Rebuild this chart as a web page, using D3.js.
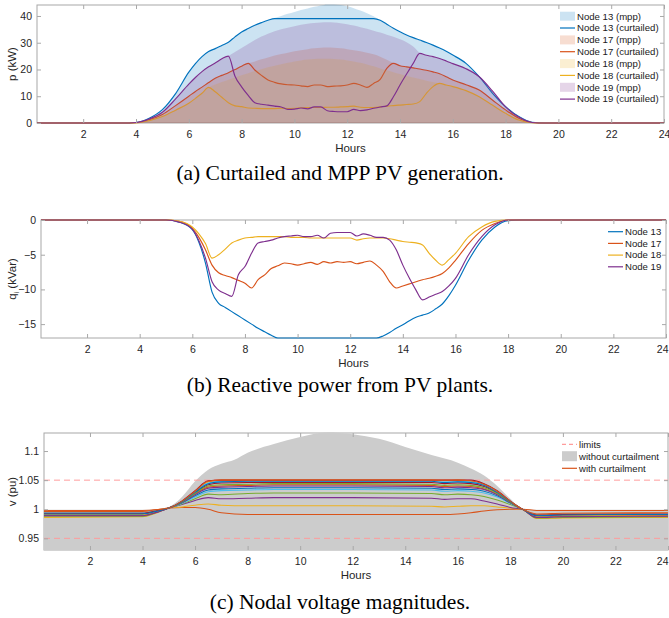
<!DOCTYPE html>
<html>
<head>
<script src="https://d3js.org/d3.v7.min.js" charset="utf-8"></script>
<style type="text/css">
	body { margin: 0; background: #fff; }
	svg { font-family: "Liberation Sans", Arial, sans-serif; }
	.tick text { fill: #262626; font-size: 10.5px; }
	.tick line { stroke: #a8a8a8; }
	.caption { font-family: "Liberation Serif", "Times New Roman", serif; font-size: 21.5px; fill: #000; }
</style>
</head>
<body>
<script>
// ---- data ----
const xTicks = [2, 4, 6, 8, 10, 12, 14, 16, 18, 20, 22, 24];

// hours for panels (a) and (b)
const tA = [0.25, 3.5, 4, 4.5, 5, 5.5, 6, 6.25, 6.5, 6.75, 7, 7.25, 7.5, 7.75, 8, 8.25, 8.5, 8.75, 9, 9.25,
	9.5, 9.75, 10, 10.25, 10.5, 10.75, 11, 11.25, 11.5, 11.75, 12, 12.25, 12.5, 12.75, 13, 13.25, 13.5, 13.75,
	14, 14.25, 14.5, 14.75, 15, 15.25, 15.5, 15.75, 16, 16.5, 17, 17.5, 18, 18.5, 19, 19.5, 24];

// (a) active power, kW
const p13mpp = [0,0,0.2,1.8,5,11,19,22.2,24.8,26.7,27.8,29,30.2,32.2,34,35.3,36.5,37.5,38.4,39.2,40,40.8,41.5,42.2,42.8,43.4,43.9,44.3,44.3,44.1,43.6,42.9,42,41,39.9,38.4,36.9,35.4,34.1,32.9,31.9,31,30.1,29.1,28,26.8,25.4,22.3,17.3,11.2,6.1,2.4,0.3,0,0];
const p13cur = [0,0,0.2,1.8,5,11,19,22.2,24.8,26.7,27.8,29,30.2,32.2,34,35.3,36.5,37.5,38.4,39,39,39,39,39,39,39,39,39,39,39,39,39,39,39,39,38.4,36.9,35.4,34.1,32.9,31.9,31,30.1,29.1,28,26.8,25.4,22.3,17.3,11.2,6.1,2.4,0.3,0,0];
const p17mpp = [0,0,0.1,1.2,3.2,6.5,10,11.8,13.4,15.1,16.7,17.8,18.8,20,21.2,22.3,23,23.8,24.5,25.2,25.8,26.3,26.8,27.2,27.6,27.9,28.1,28.2,28.1,27.9,27.6,27.2,26.8,26.3,25.7,24.8,23.6,22.4,21.4,21,20.6,20.2,19.7,19.1,18.4,17.3,16.1,14.3,12.3,8.6,4.9,1.8,0.2,0,0];
const p17cur = [0,0,0.1,1.2,3.2,6.5,10,11.8,13.4,15.1,16.7,17.8,18.8,20,21.2,22.3,19.8,17.8,16.1,15.2,14.6,14.3,14.2,13.9,13.6,14.2,14.2,13.6,13.8,13.9,14.2,14.8,14.2,13.3,14.8,16.3,20.4,22.3,21.4,21,20.6,20.2,19.7,19.1,18.4,17.3,16.1,14.3,12.3,8.6,4.9,1.8,0.2,0,0];
const p18mpp = [0,0,0.1,0.9,2.4,4.8,7.4,9.2,11.1,13.3,14.4,15.3,16.2,17,17.8,18.6,19.4,20.1,20.8,21.4,22,22.5,23,23.4,23.7,23.9,24,24,23.9,23.7,23.4,23,22.5,21.9,21.2,20.4,19.7,19,18.3,17.6,17,16.4,15.8,15.3,14.8,14.2,13.6,12.1,9.8,6.7,3.6,1.1,0.1,0,0];
const p18cur = [0,0,0.1,0.9,2.4,4.8,7.4,9.2,11.1,13.3,11.7,9.6,7.6,6.4,6.1,5.6,5.5,5.4,5.4,5.4,5.5,5.4,5.5,5.7,5.8,5.8,5.8,5.9,5.9,6,6.1,6.3,5.9,5.8,5.8,6,6.3,6.5,6.7,6.9,7.1,8,11.1,13.6,14.8,14.2,13.6,12.1,9.8,6.7,3.6,1.1,0.1,0,0];
const p19mpp = [0,0,0.2,1.5,4,9,14.5,17,19.2,21,22.4,24,25,26.5,28,29.5,31,32.3,33.4,34.3,35,35.6,36.2,36.7,37.1,37.4,37.6,37.7,37.6,37.3,36.9,36.4,35.8,35.2,34.5,33.8,33,32.2,31.3,30.2,28.6,26.2,25.3,24.8,24.1,23.2,22.2,20.3,17.3,12,6,2.2,0.2,0,0];
const p19cur = [0,0,0.2,1.5,4,9,14.5,17,19.2,21,22.4,24,25,17.5,13.5,10.3,7.6,7,6.7,6.3,6,5.1,5.2,5.6,5.3,6,6,4.6,4.3,4.2,4.2,5.1,4.6,4.9,5.5,6,6.4,9.8,14.2,18.3,22.3,26,25.3,24.8,24.1,23.2,22.2,20.3,17.3,12,6,2.2,0.2,0,0];

// (b) reactive power, kVar
const q13 = [0,0,0,0,0,-0.3,-1.4,-3.2,-6.2,-10.4,-12,-12.6,-13.2,-13.8,-14.4,-15,-15.6,-16.1,-16.6,-17,-17,-17,-17,-17,-17,-17,-17,-17,-17,-17,-17,-17,-17,-17,-17,-16.7,-16.2,-15.6,-15.1,-14.5,-14,-13.7,-13.4,-12.8,-12.1,-10.9,-9.4,-5.8,-2.9,-1,-0.1,0,0,0,0];
const q17 = [0,0,0,0,0,-0.2,-1.2,-2.5,-4.3,-6.5,-7.6,-8,-8.3,-8.7,-9.1,-9.8,-8.6,-7.9,-7,-6.6,-6.2,-6.3,-6.5,-6.3,-6.1,-6.4,-6,-6.2,-6,-6.1,-6,-6.3,-6.1,-5.9,-6.5,-7.4,-8.9,-9.8,-9.5,-9.2,-8.9,-8.6,-8.4,-8.1,-7.7,-6.9,-5.8,-3.4,-1.5,-0.5,0,0,0,0,0];
const q18 = [0,0,0,0,0,-0.2,-1,-2,-3.4,-5.5,-5,-4.2,-3.3,-2.9,-2.6,-2.5,-2.4,-2.4,-2.4,-2.4,-2.4,-2.5,-2.5,-2.5,-2.6,-2.6,-2.6,-2.6,-2.6,-2.6,-2.6,-2.9,-2.7,-2.6,-2.6,-2.6,-2.7,-2.9,-3.1,-3.2,-3.3,-3.6,-4.8,-5.8,-6.5,-5.7,-4.8,-2.4,-1,-0.2,0,0,0,0,0];
const q19 = [0,0,0,0,0,-0.3,-1.3,-3,-5.5,-8.9,-10.1,-10.6,-11,-7.9,-6.7,-4.8,-3.3,-3.1,-2.9,-2.6,-2.4,-2.3,-2.2,-2.4,-2.4,-2.2,-2.6,-1.9,-1.8,-1.8,-1.8,-2.3,-2,-2.2,-2.5,-2.5,-2.9,-4.3,-6.5,-8.4,-10.1,-11.5,-11.1,-10.7,-10.3,-9.5,-8.4,-5,-2.4,-0.7,0,0,0,0,0];

// (c) voltages, pu
const tG = [0.25, 4, 4.5, 5, 5.5, 6, 6.5, 7, 7.5, 8, 9, 10, 11, 12, 13, 14, 15, 16, 16.5, 17, 17.5, 18, 18.5, 19, 24];
const vNoCurt = [0.999,0.999,1.0,1.004,1.021,1.048,1.068,1.078,1.085,1.097,1.112,1.124,1.132,1.129,1.121,1.107,1.093,1.08,1.07,1.058,1.04,1.018,0.999,0.999,0.999];
const tC = [0.25, 4, 4.5, 5, 5.5, 6, 6.5, 7, 8, 9, 12, 15, 15.5, 16, 16.5, 17, 17.5, 18, 18.5, 19, 20, 24];
const vCur = [
	[0.998,0.998,0.999,1.002,1.003,1.003,1.0,0.994,0.991,0.991,0.991,0.991,0.991,0.992,0.994,0.997,0.999,1.0,1.0,0.998,0.998,0.998],
	[0.986,0.987,0.993,1.002,1.004,1.007,1.009,1.007,1.006,1.006,1.006,1.005,1.004,1.005,1.006,1.006,1.004,1.002,0.999,0.984,0.985,0.986],
	[0.99,0.99,0.995,1.002,1.008,1.015,1.02,1.018,1.019,1.02,1.02,1.019,1.017,1.018,1.018,1.014,1.009,1.003,0.999,0.988,0.989,0.99],
	[0.988,0.988,0.994,1.002,1.009,1.018,1.026,1.025,1.027,1.028,1.028,1.027,1.025,1.026,1.025,1.022,1.016,1.008,0.999,0.985,0.986,0.987],
	[0.99,0.99,0.995,1.002,1.01,1.021,1.03,1.032,1.033,1.034,1.034,1.033,1.031,1.032,1.031,1.028,1.021,1.01,0.999,0.987,0.988,0.989],
	[0.99,0.99,0.995,1.002,1.013,1.028,1.042,1.045,1.046,1.046,1.046,1.046,1.044,1.045,1.044,1.039,1.028,1.013,0.999,0.987,0.988,0.989],
	[0.992,0.992,0.996,1.002,1.011,1.023,1.033,1.035,1.036,1.037,1.037,1.036,1.034,1.035,1.034,1.031,1.023,1.011,0.999,0.989,0.99,0.99],
	[0.991,0.991,0.996,1.002,1.012,1.026,1.038,1.04,1.041,1.042,1.042,1.041,1.039,1.04,1.039,1.035,1.026,1.012,0.999,0.988,0.989,0.99],
	[0.991,0.991,0.996,1.002,1.013,1.03,1.047,1.05,1.05,1.05,1.05,1.05,1.049,1.05,1.048,1.042,1.03,1.013,0.999,0.988,0.989,0.99],
	[0.989,0.989,0.994,1.002,1.011,1.025,1.036,1.038,1.039,1.04,1.04,1.039,1.037,1.038,1.037,1.034,1.025,1.011,0.999,0.986,0.987,0.988],
	[0.993,0.993,0.997,1.002,1.012,1.027,1.04,1.042,1.043,1.044,1.044,1.043,1.041,1.042,1.041,1.037,1.027,1.012,0.999,0.99,0.991,0.991],
	[0.994,0.994,0.998,1.002,1.014,1.03,1.045,1.048,1.049,1.049,1.049,1.049,1.048,1.048,1.047,1.042,1.03,1.014,0.999,0.991,0.992,0.992],
	[0.993,0.993,0.997,1.002,1.014,1.032,1.049,1.05,1.05,1.05,1.05,1.05,1.05,1.05,1.05,1.044,1.032,1.014,0.999,0.99,0.991,0.992],
	[0.992,0.992,0.996,1.002,1.013,1.029,1.044,1.047,1.048,1.048,1.048,1.048,1.046,1.047,1.046,1.041,1.029,1.013,0.999,0.989,0.99,0.991],
	[0.996,0.996,0.999,1.002,1.014,1.031,1.048,1.05,1.05,1.05,1.05,1.05,1.05,1.05,1.049,1.043,1.031,1.014,0.999,0.992,0.993,0.994]
];
const vLimits = [0.95, 1.05];

// ---- styles ----
const blue = "#0072BD", red = "#D95319", yellow = "#EDB120", purple = "#7E2F8E",
	green = "#77AC30", cyan = "#4DBEEE", dark = "#A2142F";
const vColors = [red, yellow, purple, green, cyan, dark, blue, red, yellow, purple, green, cyan, dark, blue, red];

const svg = d3.select("body").append("svg").attr("width", 669).attr("height", 618);

function panel(id, box, yDomain, yTicks, yFmt, ylab) {
	const x = d3.scaleLinear().domain([0.25, 24]).range([box.l, box.r]);
	const y = d3.scaleLinear().domain(yDomain).range([box.b, box.t]);
	const g = svg.append("g");
	g.append("rect").attr("x", box.l).attr("y", box.t).attr("width", box.r - box.l).attr("height", box.b - box.t)
		.attr("fill", "none").attr("stroke", "#a8a8a8").attr("stroke-width", 1);
	svg.append("clipPath").attr("id", id).append("rect")
		.attr("x", box.l).attr("y", box.t - 1).attr("width", box.r - box.l).attr("height", box.b - box.t + 2);
	const data = g.append("g").attr("clip-path", "url(#" + id + ")");
	const axes = g.append("g");
	const xAx = axes.append("g").attr("transform", "translate(0," + box.b + ")")
		.call(d3.axisBottom(x).tickValues(xTicks).tickFormat(d3.format("d")).tickSizeInner(-4).tickSizeOuter(0).tickPadding(8));
	axes.append("g").attr("transform", "translate(0," + box.t + ")")
		.call(d3.axisTop(x).tickValues(xTicks).tickFormat("").tickSizeInner(-4).tickSizeOuter(0));
	axes.append("g").attr("transform", "translate(" + box.l + ",0)")
		.call(d3.axisLeft(y).tickValues(yTicks).tickFormat(yFmt).tickSizeInner(-4).tickSizeOuter(0).tickPadding(5));
	axes.append("g").attr("transform", "translate(" + box.r + ",0)")
		.call(d3.axisRight(y).tickValues(yTicks).tickFormat("").tickSizeInner(-4).tickSizeOuter(0));
	axes.selectAll(".domain").remove();
	axes.selectAll(".tick text").attr("font-family", null).attr("font-size", null);
	// keep the last hour label inside the page
	xAx.selectAll(".tick text").filter(d => d === 24 && box.r > 664).attr("text-anchor", "end").attr("dx", 669 - box.r - 1);
	g.append("text").attr("x", (box.l + box.r) / 2).attr("y", box.b + 29).attr("text-anchor", "middle")
		.attr("font-size", 11.5).attr("fill", "#262626").text("Hours");
	const yl = g.append("text").attr("transform", "translate(16," + ((box.t + box.b) / 2) + ") rotate(-90)")
		.attr("text-anchor", "middle").attr("font-size", 11.5).attr("fill", "#262626");
	ylab(yl);
	return { x, y, data, axes, g };
}

function legendRow(g, x0, yy, kind, color, label) {
	if (kind === "patch") {
		g.append("rect").attr("x", x0).attr("y", yy - 4.5).attr("width", 15).attr("height", 9)
			.attr("fill", color).attr("fill-opacity", 0.2);
	} else if (kind === "gray") {
		g.append("rect").attr("x", x0).attr("y", yy - 5).attr("width", 15).attr("height", 10).attr("fill", color);
	} else {
		g.append("line").attr("x1", x0).attr("x2", x0 + 15).attr("y1", yy).attr("y2", yy)
			.attr("stroke", color).attr("stroke-width", 1.2).attr("stroke-dasharray", kind === "dash" ? "4,3" : null);
	}
	g.append("text").attr("x", x0 + 17).attr("y", yy).attr("dy", "0.35em").attr("font-size", 9.6)
		.attr("fill", "#1a1a1a").text(label);
}

// ---- (a) ----
const A = panel("clipA", { l: 37, r: 664, t: 5, b: 123 }, [0, 44.1], [0, 10, 20, 30, 40], d3.format("d"),
	t => t.text("p (kW)"));
const seriesA = [
	[p13mpp, p13cur, blue, "Node 13"],
	[p17mpp, p17cur, red, "Node 17"],
	[p18mpp, p18cur, yellow, "Node 18"],
	[p19mpp, p19cur, purple, "Node 19"]
];
const areaA = d3.area().x((d, i) => A.x(tA[i])).y0(A.y(0)).y1(d => A.y(d)).curve(d3.curveMonotoneX);
const lineA = d3.line().x((d, i) => A.x(tA[i])).y(d => A.y(d)).curve(d3.curveMonotoneX);
seriesA.forEach(s => {
	A.data.append("path").attr("d", areaA(s[0])).attr("fill", s[2]).attr("fill-opacity", 0.2);
	A.data.append("path").attr("d", lineA(s[1])).attr("fill", "none").attr("stroke", s[2]).attr("stroke-width", 1.15);
});
A.g.node().appendChild(A.axes.node());
seriesA.forEach((s, i) => {
	legendRow(A.g, 560, 16.2 + i * 23.7, "patch", s[2], s[3] + " (mpp)");
	legendRow(A.g, 560, 28 + i * 23.7, "line", s[2], s[3] + " (curtailed)");
});

// ---- (b) ----
const B = panel("clipB", { l: 41, r: 666, t: 220, b: 338 }, [-17, 0], [-15, -10, -5, 0], d3.format("d"),
	t => { t.append("tspan").text("q"); t.append("tspan").attr("font-size", 7).attr("dy", 3).text("i");
		t.append("tspan").attr("dy", -3).text(" (kVar)"); });
const seriesB = [[q13, blue, "Node 13"], [q17, red, "Node 17"], [q18, yellow, "Node 18"], [q19, purple, "Node 19"]];
const lineB = d3.line().x((d, i) => B.x(tA[i])).y(d => B.y(d)).curve(d3.curveMonotoneX);
seriesB.forEach(s => {
	B.data.append("path").attr("d", lineB(s[0])).attr("fill", "none").attr("stroke", s[1]).attr("stroke-width", 1.15);
});
B.g.node().appendChild(B.axes.node());
seriesB.forEach((s, i) => legendRow(B.g, 608, 231.7 + i * 11.7, "line", s[1], s[2]));

// ---- (c) ----
const C = panel("clipC", { l: 44, r: 668, t: 433, b: 550 }, [0.93, 1.131], [0.95, 1, 1.05, 1.1], d3.format("~g"),
	t => t.text("v (pu)"));
const areaC = d3.area().x((d, i) => C.x(tG[i])).y0(C.y(0.93)).y1(d => C.y(d)).curve(d3.curveMonotoneX);
C.data.append("path").attr("d", areaC(vNoCurt)).attr("fill", "#cccccc");
vLimits.forEach(v => {
	C.data.append("line").attr("x1", C.x(0.25)).attr("x2", C.x(24)).attr("y1", C.y(v)).attr("y2", C.y(v))
		.attr("stroke", "#ff9c9c").attr("stroke-width", 1).attr("stroke-dasharray", "6,4");
});
const lineC = d3.line().x((d, i) => C.x(tC[i])).y(d => C.y(d)).curve(d3.curveMonotoneX);
vCur.forEach((s, i) => {
	C.data.append("path").attr("d", lineC(s)).attr("fill", "none").attr("stroke", vColors[i]).attr("stroke-width", 1.05);
});
C.g.node().appendChild(C.axes.node());
legendRow(C.g, 562, 444.3, "dash", "#ff9c9c", "limits");
legendRow(C.g, 562, 456.2, "gray", "#cccccc", "without curtailment");
legendRow(C.g, 562, 468.3, "line", red, "with curtailment");

// ---- captions ----
const captions = ["(a) Curtailed and MPP PV generation.", "(b) Reactive power from PV plants.", "(c) Nodal voltage magnitudes."];
const capY = [180, 392, 609];
captions.forEach((c, i) => {
	svg.append("text").attr("class", "caption").attr("x", 340).attr("y", capY[i]).attr("text-anchor", "middle").text(c);
});
</script>
</body>
</html>
